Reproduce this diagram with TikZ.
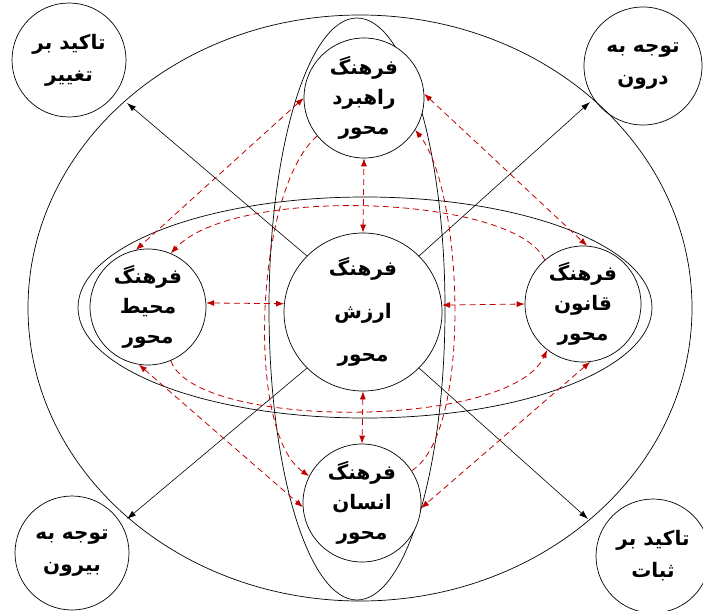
\documentclass[tikz,border=0pt]{standalone}
\usepackage{fontspec}
\usetikzlibrary{arrows.meta}
\newfontfamily\farsifont[Script=Arabic,BoldFont={DejaVu Sans Bold}]{DejaVu Sans}
\TeXXeTstate=1
\newcommand{\fa}[1]{\beginR #1\endR}
\definecolor{DashRed}{HTML}{C00000}

\begin{document}
\begin{tikzpicture}[x=1pt,y=-1pt,
  culture/.style={circle,draw,fill=white,line width=.7pt,minimum size=116pt,inner sep=0pt,align=center,
    font=\farsifont\bfseries\fontsize{20}{30}\selectfont},
  corner/.style={culture,fill=none,font=\farsifont\bfseries\fontsize{20}{32}\selectfont},
  rim/.style={line width=.7pt},
  flow/.style={DashRed,line width=.8pt,dash pattern=on 6pt off 4pt,-{Latex[length=8pt,width=6pt]}},
  both/.style={flow,{Latex[length=8pt,width=6pt]}-{Latex[length=8pt,width=6pt]}},
  pole/.style={line width=.6pt,-{Latex[length=9pt,width=6pt]}}]
\useasboundingbox (0,0) rectangle (703,610);
% rings
\draw[rim] (360,308) ellipse [x radius=332,y radius=293];
\draw[rim] (357,309) ellipse [x radius=88,y radius=291];
\draw[rim] (365,307.5) ellipse [x radius=287,y radius=110.5];
% cultures
\node[culture,minimum size=158pt,font=\farsifont\bfseries\fontsize{20}{43}\selectfont] (arzesh) at (363,312) {\fa{فرهنگ}\\\fa{ارزش}\\\fa{محور}};
\node[culture,minimum size=120pt] (rahbord) at (364,98) {\fa{فرهنگ}\\\fa{راهبرد}\\\fa{محور}};
\node[culture] (mohit) at (148,307) {\fa{فرهنگ}\\\fa{محیط}\\\fa{محور}};
\node[culture] (ghanun) at (583,304) {\fa{فرهنگ}\\\fa{قانون}\\\fa{محور}};
\node[culture,minimum size=118pt] (ensan) at (362,503) {\fa{فرهنگ}\\\fa{انسان}\\\fa{محور}};
% corners
\node[corner,minimum size=114pt] (taghyir) at (69,60) {\fa{تاکید بر}\\\fa{تغییر}};
\node[corner,minimum size=118pt] (darun) at (643,66) {\fa{توجه به}\\\fa{درون}};
\node[corner,minimum size=114pt] (birun) at (72,553) {\fa{توجه به}\\\fa{بیرون}};
\node[corner,minimum size=114pt] (sobat) at (653,556) {\fa{تاکید بر}\\\fa{ثبات}};
% outward arrows
\coordinate (tipA) at (127,103);
\coordinate (tipB) at (590,102);
\coordinate (tipC) at (127,519);
\coordinate (tipD) at (588,519);
\draw[pole] (arzesh.135) -- (tipA);
\draw[pole] (arzesh.45) -- (tipB);
\draw[pole] (arzesh.225) -- (tipC);
\draw[pole] (arzesh.315) -- (tipD);
% links
\draw[both] (arzesh.north) -- (rahbord.south);
\draw[both] (arzesh.south) -- (ensan.north);
\draw[both] (mohit.4) -- (arzesh.174);
\draw[both] (arzesh.5) -- (ghanun.west);
\draw[both] (rahbord.180) -- (mohit.102);
\draw[both] (rahbord.4) -- (ghanun.86);
\draw[both] (mohit.-99) -- (ensan.184);
\draw[both] (ghanun.-83) -- (ensan.-5);
% loops
\draw[flow] (ghanun.131) .. controls (515,195) and (235,185) .. (mohit.67);
\draw[flow] (mohit.-67) .. controls (195,430) and (510,430) .. (ghanun.232);
\draw[flow] (rahbord.219) .. controls (255,190) and (245,432) .. (ensan.153);
\draw[flow] (ensan.33) .. controls (473,432) and (463,190) .. (rahbord.-32);
\end{tikzpicture}
\end{document}
